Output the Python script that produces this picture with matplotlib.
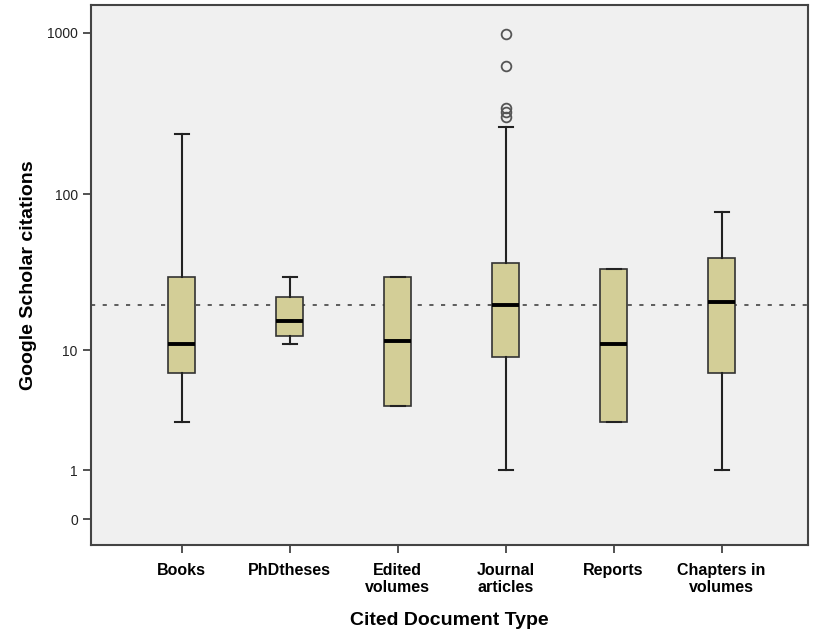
import numpy as np
import matplotlib
matplotlib.use("Agg")
import matplotlib.pyplot as plt

plt.rcParams["font.family"] = ["Liberation Sans", "DejaVu Sans"]

categories = ["Books", "PhDtheses", "Edited\nvolumes", "Journal\narticles", "Reports", "Chapters in\nvolumes"]
whislo = [3, 11, 4, 1, 3, 1]
q1 = [7, 12.5, 4, 9, 3, 7]
med = [11, 15.8, 11.6, 20, 11, 21]
q3 = [30, 22.6, 30, 37, 34, 40]
whishi = [236, 30, 30, 261, 34, 78]
fliers = [[], [], [], [302, 324, 343, 623, 990], [], []]
reference = 20
yticks = [0, 1, 10, 100, 1000]

fig = plt.figure(figsize=(8.14, 6.3), dpi=100)
ax = fig.add_axes([0.1118, 0.1349, 0.8808, 0.8571])
ax.set_facecolor("#F0F0F0")

fwd = lambda x: np.log10(np.maximum(np.asarray(x, float) + 1, 1e-12))
inv = lambda y: 10 ** np.asarray(y, float) - 1
ax.set_yscale("function", functions=(fwd, inv))

stats = []
for i, c in enumerate(categories):
    stats.append(dict(label=c, whislo=whislo[i], q1=q1[i], med=med[i], q3=q3[i],
                      whishi=whishi[i], fliers=fliers[i]))
positions = np.arange(1, len(categories) + 1)
ax.axhline(reference, color="#444444", lw=1.2, linestyle=(0, (2.5, 4.5)), zorder=1)
ax.bxp(stats, positions=positions, widths=0.25, patch_artist=True,
       boxprops=dict(facecolor="#D3CE97", edgecolor="#333333", linewidth=1.2),
       medianprops=dict(color="black", linewidth=2.8),
       whiskerprops=dict(color="#222222", linewidth=1.5),
       capprops=dict(color="#222222", linewidth=1.5),
       capwidths=0.13,
       flierprops=dict(marker="o", markerfacecolor="none", markeredgecolor="#555555",
                       markersize=7, markeredgewidth=1.3),
       zorder=3)

ax.set_xlim(0.16, 6.8)
ax.set_ylim(inv(-0.16), inv(3.173))
ax.set_yticks(yticks)
ax.set_yticklabels([str(t) for t in yticks])
ax.yaxis.set_minor_locator(matplotlib.ticker.NullLocator())
ax.set_xticks(positions)
ax.set_xticklabels(categories, fontsize=11.5, fontweight="bold", linespacing=1.15)
for lab in ax.get_yticklabels():
    lab.set_fontsize(10)
    lab.set_color("#222222")
ax.tick_params(axis="both", direction="out", length=6, width=1.3, color="#444444")
ax.tick_params(axis="x", pad=7)
for s in ax.spines.values():
    s.set_color("#444444")
    s.set_linewidth(1.5)

ax.set_xlabel("Cited Document Type", fontsize=14, fontweight="bold", labelpad=12)
ax.set_ylabel("Google Scholar citations", fontsize=14, fontweight="bold", labelpad=7)

fig.savefig("out.png", dpi=100)
